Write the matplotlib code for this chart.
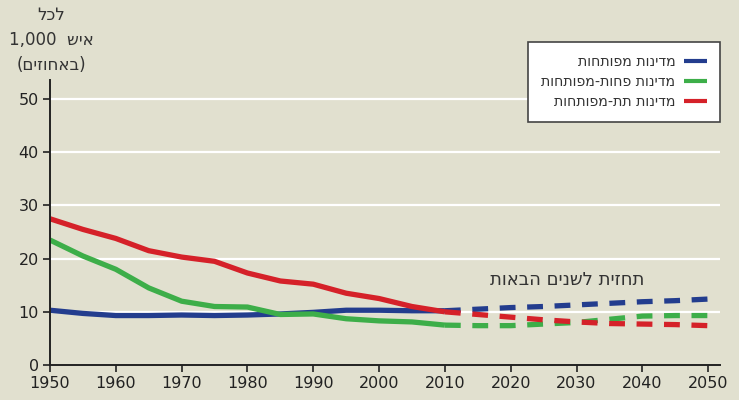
import matplotlib
matplotlib.use("Agg")
import matplotlib.pyplot as plt

plt.rcParams['font.family'] = ['Liberation Sans Narrow', 'DejaVu Sans']

# data
years = [1950, 1955, 1960, 1965, 1970, 1975, 1980, 1985, 1990, 1995, 2000, 2005, 2010]
forecast_years = [2010, 2015, 2020, 2025, 2030, 2035, 2040, 2045, 2050]

developed = [10.3, 9.7, 9.3, 9.3, 9.4, 9.3, 9.4, 9.6, 9.9, 10.3, 10.3, 10.2, 10.2]
developed_fc = [10.2, 10.5, 10.8, 11.0, 11.3, 11.6, 11.9, 12.1, 12.4]
less_dev = [23.5, 20.5, 18.0, 14.5, 12.0, 11.0, 10.9, 9.5, 9.6, 8.7, 8.3, 8.1, 7.5]
less_dev_fc = [7.5, 7.4, 7.4, 7.7, 8.0, 8.6, 9.2, 9.3, 9.3]
least_dev = [27.5, 25.5, 23.8, 21.5, 20.3, 19.5, 17.3, 15.8, 15.2, 13.5, 12.5, 11.0, 10.0]
least_dev_fc = [10.0, 9.5, 9.0, 8.5, 8.1, 7.8, 7.7, 7.6, 7.4]

labels = ["מדינות מפותחות", "מדינות פחות-מפותחות", "מדינות תת-מפותחות"]
forecast_label = "תחזית לשנים הבאות"
yticks = [0, 10, 20, 30, 40, 50]
xticks = list(range(1950, 2051, 10))


def rtl(s):
    # matplotlib has no bidi support: put Hebrew in visual order
    return s[::-1]


bg = "#e1e0cf"
blue = "#233d8e"
green = "#3dae49"
red = "#d52129"
lw = 3.8

fig = plt.figure(figsize=(7.39, 4.0), dpi=100, facecolor=bg)
ax = fig.add_axes([50 / 739, 35 / 400, 670 / 739, 285 / 400], facecolor=bg)

for vals, fc, col, lab in [(developed, developed_fc, blue, labels[0]),
                           (less_dev, less_dev_fc, green, labels[1]),
                           (least_dev, least_dev_fc, red, labels[2])]:
    ax.plot(years, vals, color=col, lw=lw, solid_capstyle="butt", label=rtl(lab))
    ax.plot(forecast_years, fc, color=col, lw=lw, ls=(0, (3, 2.2)), dash_capstyle="butt")

ax.set_xlim(1950, 2051.8)
ax.set_ylim(0, 53.6)
ax.set_xticks(xticks)
ax.set_yticks(yticks)
ax.tick_params(labelsize=11.5, color="#222222", width=1.2, length=5, pad=3, labelcolor="#222222")

for y in yticks[1:]:
    ax.axhline(y, color="white", lw=1.6, zorder=0)

for s in ["top", "right"]:
    ax.spines[s].set_visible(False)
for s in ["left", "bottom"]:
    ax.spines[s].set_color("#222222")
    ax.spines[s].set_linewidth(1.4)

ax.text(2028.6, 16, rtl(forecast_label), fontsize=13, color="#333333", ha="center", va="center")

fig.text(51 / 739, 1 - 40 / 400, rtl("לכל") + "\n1,000  " + rtl("איש") + "\n(" + rtl("באחוזים") + ")",
         ha="center", va="center", multialignment="center", fontsize=12, color="#333333", linespacing=1.5)

leg = ax.legend(loc="upper right", bbox_to_anchor=(720 / 739, 1 - 42 / 400), bbox_transform=fig.transFigure,
                markerfirst=False, fontsize=10.2, frameon=True, fancybox=False, framealpha=1,
                handlelength=1.6, borderpad=0.95, labelspacing=0.4, handletextpad=0.6, borderaxespad=0)
leg.get_frame().set_edgecolor("#444444")
leg.get_frame().set_linewidth(1.2)
for t in leg.get_texts():
    t.set_color("#333333")
for h in leg.get_lines():
    h.set_linewidth(3.0)

fig.savefig("out.png", dpi=100, facecolor=bg)
